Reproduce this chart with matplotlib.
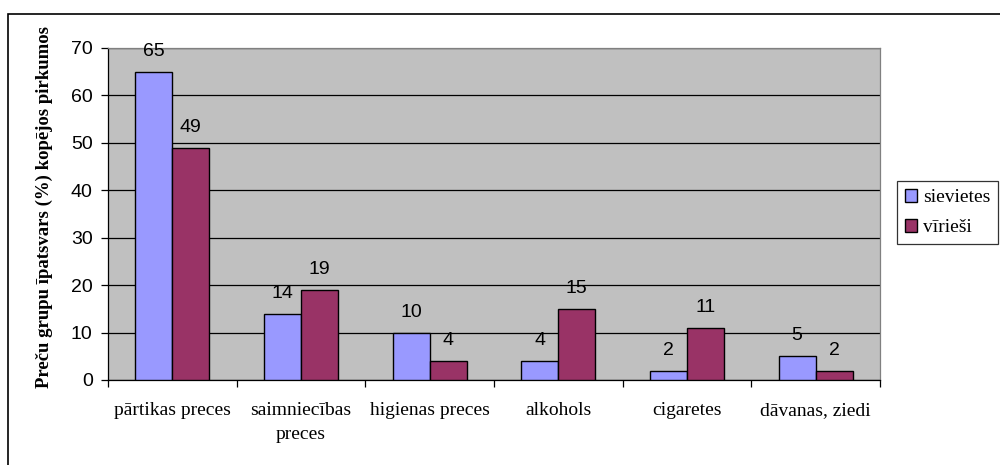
import matplotlib.pyplot as plt
import matplotlib.patches as patches
import numpy as np

# Preču grupu īpatsvars kopējos pirkumos (%)
kategorijas = ['pārtikas preces', 'saimniecības\npreces', 'higienas preces',
               'alkohols', 'cigaretes', 'dāvanas, ziedi']
sievietes = [65, 14, 10, 4, 2, 5]
virieši = [49, 19, 4, 15, 11, 2]
y_ticks = [0, 10, 20, 30, 40, 50, 60, 70]

fig = plt.figure(figsize=(10, 4.65), dpi=100)
ax = fig.add_axes([0.108, 0.1828, 0.772, 0.714])
ax.set_facecolor('#C0C0C0')

x = np.arange(len(kategorijas))
w = 0.288
b1 = ax.bar(x - w / 2, sievietes, w, color='#9999FF', edgecolor='black', linewidth=1,
            label='sievietes', zorder=3)
b2 = ax.bar(x + w / 2, virieši, w, color='#993366', edgecolor='black', linewidth=1,
            label='vīrieši', zorder=3)

# Vērtības virs stabiņiem
for bars, vals in ((b1, sievietes), (b2, virieši)):
    for bar, v in zip(bars, vals):
        ax.annotate(str(v), (bar.get_x() + bar.get_width() / 2, bar.get_height()),
                    xytext=(0, 8.5), textcoords='offset points', ha='center', va='bottom',
                    fontsize=14, family='Liberation Sans')

ax.set_xlim(-0.5, len(kategorijas) - 0.5)
ax.set_ylim(0, 70)
ax.set_yticks(y_ticks)
ax.yaxis.grid(True, color='black', linewidth=0.9, zorder=1)
ax.set_axisbelow(True)
ax.tick_params(axis='y', direction='out', length=5, width=0.9, labelsize=14, pad=6)
for lbl in ax.get_yticklabels():
    lbl.set_family('Liberation Sans')

ax.set_xticks(x)
ax.set_xticklabels(kategorijas, family='Liberation Serif', fontsize=14, linespacing=1.55)
ax.tick_params(axis='x', which='major', length=0, pad=16)
ax.set_xticks(np.arange(-0.5, len(kategorijas)), minor=True)
ax.tick_params(axis='x', which='minor', direction='out', length=5, width=0.9)

for side in ('left', 'bottom'):
    ax.spines[side].set_color('black')
    ax.spines[side].set_linewidth(0.9)
for side in ('top', 'right'):
    ax.spines[side].set_color('#808080')
    ax.spines[side].set_linewidth(0.9)

fig.text(0.044, 0.554, 'Preču grupu īpatsvars (%) kopējos pirkumos', rotation=90,
         ha='center', va='center', family='Liberation Serif', fontweight='bold',
         fontsize=13.5)

leg = ax.legend(loc='upper left', bbox_to_anchor=(0.897, 0.611),
                bbox_transform=fig.transFigure, frameon=True, fancybox=False,
                prop={'family': 'Liberation Serif', 'size': 14},
                handlelength=0.65, handleheight=0.65, handletextpad=0.3,
                labelspacing=0.65, borderpad=0.4, borderaxespad=0)
leg.get_frame().set_edgecolor('black')
leg.get_frame().set_linewidth(0.9)

# Ārējais rāmis ap visu diagrammu
fig.patches.append(patches.Rectangle((0.008, -0.05), 1.2, 1.02, transform=fig.transFigure,
                                     fill=False, edgecolor='black', linewidth=1.2))

fig.savefig('out.png', dpi=100)
